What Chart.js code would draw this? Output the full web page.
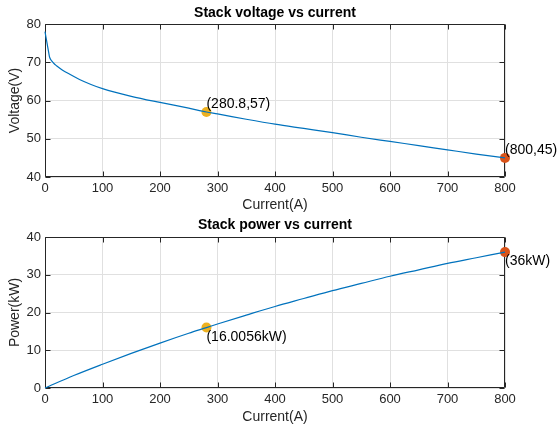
<!DOCTYPE html>
<html>
<head>
<meta charset="utf-8">
<script src="https://cdn.jsdelivr.net/npm/chart.js@4.4.1/dist/chart.umd.min.js"></script>
<style>
  html, body { margin: 0; padding: 0; background: #ffffff; }
  body { width: 558px; height: 428px; position: relative; overflow: hidden; }
  canvas { position: absolute; left: 0; }
</style>
</head>
<body>
<canvas id="c1" width="558" height="214" style="top:0px"></canvas>
<canvas id="c2" width="558" height="216" style="top:212px"></canvas>
<script>
// ---- data ----
const voltCurrent = [0, 2, 4, 6, 8, 12, 16, 20, 30, 40, 60, 80, 100, 150, 200, 250, 280.8, 300, 350, 400, 450, 500, 550, 600, 650, 700, 750, 800];
const voltValues  = [78.0, 76.3, 74.6, 72.9, 71.3, 70.3, 69.6, 69.1, 68.0, 67.1, 65.5, 64.2, 63.1, 61.1, 59.5, 58.0, 57.0, 56.5, 55.1, 53.8, 52.7, 51.6, 50.4, 49.3, 48.2, 47.1, 46.0, 45.0];
const powerCurrent = [0, 50, 100, 150, 200, 250, 280.8, 300, 350, 400, 450, 500, 550, 600, 650, 700, 750, 800];
const powerValues  = [0, 3.3, 6.3, 9.17, 11.9, 14.5, 16.0056, 16.95, 19.3, 21.6, 23.7, 25.8, 27.7, 29.6, 31.3, 33.0, 34.5, 36.0];
const markCurrent = [280.8, 800];
const markVoltage = [57, 45];
const markPower   = [16.0056, 36];
const markVoltLabels  = ['(280.8,57)', '(800,45)'];
const markPowerLabels = ['(16.0056kW)', '(36kW)'];
const xTicks = [0, 100, 200, 300, 400, 500, 600, 700, 800];
const voltTicks = [40, 50, 60, 70, 80];
const powerTicks = [0, 10, 20, 30, 40];

const FONT = "'Liberation Sans', Arial, Helvetica, sans-serif";
const AX = '#262626';
const LINE = '#0072BD';
const MARK_COLORS = ['#EDB120', '#D95319'];

Chart.defaults.font.family = FONT;
Chart.defaults.color = AX;

function pts(xs, ys) { return xs.map((x, i) => ({ x: x, y: ys[i] })); }

const boxPlugin = {
  id: 'matlabBox',
  beforeDatasetsDraw(chart) {
    const { ctx, chartArea: a, scales } = chart;
    ctx.save();
    ctx.strokeStyle = AX;
    ctx.lineWidth = 1;
    const L = Math.round(a.left) + 0.5, R = Math.round(a.right) - 0.5;
    const T = Math.round(a.top) + 0.5, B = Math.round(a.bottom) - 0.5;
    ctx.beginPath();
    ctx.rect(L, T, R - L, B - T);
    const tl = 5;
    scales.x.ticks.forEach(t => {
      const px = Math.round(scales.x.getPixelForValue(t.value)) + 0.5;
      ctx.moveTo(px, B); ctx.lineTo(px, B - tl);
      ctx.moveTo(px, T); ctx.lineTo(px, T + tl);
    });
    scales.y.ticks.forEach(t => {
      const py = Math.round(scales.y.getPixelForValue(t.value)) + 0.5;
      ctx.moveTo(L, py); ctx.lineTo(L + tl, py);
      ctx.moveTo(R, py); ctx.lineTo(R - tl, py);
    });
    ctx.stroke();
    ctx.restore();
  },
  afterDatasetsDraw(chart, args, opts) {
    const { ctx, scales } = chart;
    ctx.save();
    ctx.font = '14px ' + FONT;
    ctx.fillStyle = '#000000';
    ctx.textAlign = 'left';
    ctx.textBaseline = 'middle';
    opts.labels.forEach((txt, i) => {
      const px = scales.x.getPixelForValue(opts.xs[i]);
      const py = scales.y.getPixelForValue(opts.ys[i]);
      ctx.fillText(txt, px, py + opts.dy);
    });
    ctx.restore();
  }
};

function makeChart(id, cfg) {
  const markerSets = markCurrent.map((x, i) => ({
    type: 'scatter',
    data: [{ x: x, y: cfg.markY[i] }],
    pointRadius: 5,
    pointHoverRadius: 5,
    pointBackgroundColor: MARK_COLORS[i],
    pointBorderColor: MARK_COLORS[i],
    pointBorderWidth: 0,
    clip: false
  }));
  return new Chart(document.getElementById(id), {
    type: 'line',
    data: {
      datasets: [{
        data: pts(cfg.xs, cfg.ys),
        borderColor: LINE,
        borderWidth: 1.2,
        pointRadius: 0,
        cubicInterpolationMode: 'monotone',
        fill: false,
        clip: false
      }].concat(markerSets)
    },
    options: {
      responsive: false,
      animation: false,
      devicePixelRatio: 1,
      layout: { padding: { left: 0, right: 53, top: 0, bottom: 0 } },
      plugins: {
        legend: { display: false },
        tooltip: { enabled: false },
        title: {
          display: true,
          text: cfg.title,
          fullSize: false,
          color: '#000000',
          font: { size: 14, weight: 'bold', family: FONT },
          padding: cfg.titlePad
        },
        matlabBox: { labels: cfg.labels, xs: markCurrent, ys: cfg.markY, dy: cfg.dy }
      },
      scales: {
        x: {
          type: 'linear',
          min: 0, max: 800,
          afterBuildTicks: s => { s.ticks = xTicks.map(v => ({ value: v })); },
          afterFit: s => { s.height = cfg.xHeight; },
          grid: { color: '#e0e0e0', drawTicks: false, lineWidth: 1 },
          border: { display: false },
          ticks: { padding: 4, color: AX, font: { size: 13, family: FONT } },
          title: {
            display: true, text: 'Current(A)', color: AX,
            font: { size: 14, family: FONT },
            padding: { top: 0, bottom: cfg.xTitlePad }
          }
        },
        y: {
          type: 'linear',
          min: cfg.yMin, max: cfg.yMax,
          afterBuildTicks: s => { s.ticks = cfg.yTicks.map(v => ({ value: v })); },
          afterFit: s => { s.width = 45; },
          grid: { color: '#e0e0e0', drawTicks: false, lineWidth: 1 },
          border: { display: false },
          ticks: { padding: 4, color: AX, font: { size: 13, family: FONT } },
          title: {
            display: true, text: cfg.yTitle, color: AX,
            font: { size: 14, family: FONT },
            padding: { top: 7, bottom: 0 }
          }
        }
      }
    },
    plugins: [boxPlugin]
  });
}

makeChart('c1', {
  xs: voltCurrent, ys: voltValues, markY: markVoltage,
  labels: markVoltLabels, dy: -8,
  title: 'Stack voltage vs current',
  titlePad: { top: 4.9, bottom: 2.3 },
  xHeight: 37, xTitlePad: 0,
  yMin: 40, yMax: 80, yTicks: voltTicks, yTitle: 'Voltage(V)'
});

makeChart('c2', {
  xs: powerCurrent, ys: powerValues, markY: markPower,
  labels: markPowerLabels, dy: 9.5,
  title: 'Stack power vs current',
  titlePad: { top: 4.6, bottom: 3.6 },
  xHeight: 40, xTitlePad: 2.3,
  yMin: 0, yMax: 40, yTicks: powerTicks, yTitle: 'Power(kW)'
});
</script>
</body>
</html>
